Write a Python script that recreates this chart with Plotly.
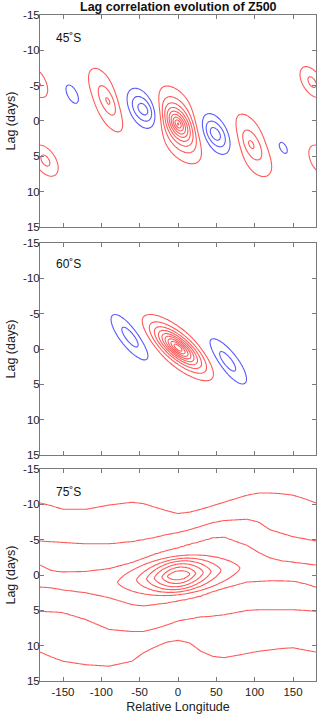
import numpy as np
import plotly.graph_objects as go

# ---------------- data ----------------
title_text = "Lag correlation evolution of Z500"
panel_labels = ["45˚S", "60˚S", "75˚S"]
x_ticks = [-150, -100, -50, 0, 50, 100, 150]
x_ticktext = ["-150", "-100", "-50", "0", "50", "100", "150"]
y_ticks = [-15, -10, -5, 0, 5, 10, 15]
y_ticktext = ["-15", "-10", "-5", "0", "5", "10", "15"]
pos_levels = [0.1, 0.9, 0.1]     # start, end, step
neg_levels = [-0.9, -0.1, 0.1]

# Panel 1 (45S): correlation centres (relative lon, lag), peak values, widths, tilt, profile
p1_lon = [0, -44, 48, -91, 95, -137, 136, 175, -173]
p1_lag = [0.4, -1.6, 1.8, -2.8, 3.3, -3.8, 3.8, -5.5, 5.6]
p1_amp = [1.0, -0.46, -0.46, 0.36, 0.36, -0.17, -0.17, 0.24, 0.24]
p1_wlon = [18, 23, 21, 18, 21, 15, 15, 15, 16]
p1_wlag = [2.9, 2.9, 2.9, 3.9, 3.8, 2.7, 2.5, 2.4, 2.4]
p1_tilt = [3.6, 3.6, 3.6, 3.6, 3.6, 3.6, 3.6, 3.6, 3.6]
p1_shape = [1.2, 1.5, 1.5, 1.2, 1.2, 1.5, 1.5, 1.5, 1.5]

# Panel 2 (60S)
p2_lon = [0, -62, 64]
p2_lag = [-0.2, -1.7, 1.75]
p2_amp = [1.0, -0.28, -0.28]
p2_wlon = [18, 16, 16]
p2_wlag = [2.6, 3.3, 3.3]
p2_tilt = [8, 6, 6]
p2_shape = [1.4, 1.5, 1.5]

# Panel 3 (75S): lag position of the 0.1/0.2/0.3 lines above and below the ridge
r_lon = [-180, -165, -150, -120, -90, -60, -45, -30, -15, 0, 15, 30, 45, 60, 90, 105, 120, 135, 150, 165, 180]
r_up01 = [-10.2, -9.8, -9.3, -9.3, -9.9, -10.3, -10.1, -9.6, -9.1, -8.7, -8.9, -9.3, -9.8, -10.3, -11.3, -11.6, -11.6, -11.5, -11.3, -10.8, -10.2]
r_up02 = [-4.8, -4.7, -4.6, -4.4, -4.4, -4.7, -5.0, -5.3, -5.7, -6.0, -6.4, -6.9, -7.4, -7.7, -7.9, -7.5, -6.4, -5.9, -5.4, -5.1, -4.8]
r_up03 = [-1.4, -0.6, -0.4, -0.5, -0.9, -1.8, -2.4, -3.0, -3.5, -3.9, -4.4, -4.8, -5.3, -5.4, -4.2, -3.2, -2.4, -2.0, -1.8, -1.6, -1.4]
r_dn03 = [1.7, 1.8, 2.1, 2.5, 3.2, 4.2, 4.4, 4.2, 4.0, 3.7, 3.4, 3.0, 2.4, 1.9, 1.0, 0.9, 0.8, 0.8, 0.85, 1.2, 1.7]
r_dn02 = [5.1, 5.2, 5.3, 6.3, 7.7, 8.0, 8.0, 7.6, 7.1, 6.5, 6.2, 5.9, 5.8, 5.6, 5.0, 4.9, 4.9, 4.9, 4.9, 5.0, 5.1]
r_dn01 = [10.9, 11.6, 12.2, 12.7, 12.9, 12.2, 11.0, 10.2, 9.5, 9.25, 9.6, 10.8, 11.5, 11.7, 11.1, 10.8, 10.6, 10.4, 10.3, 10.6, 10.9]
r_peak = 0.36
# central maximum of panel 3: level, half-width in lon, half-width in lag
c_level = [1.0, 0.9, 0.8, 0.7, 0.6, 0.5, 0.4, 0.3, 0.0]
c_rlon = [1e-6, 15, 22, 32, 42, 55, 80, 100, 130]
c_rlag = [1e-6, 0.65, 1.15, 1.6, 2.0, 2.35, 2.75, 3.2, 4.5]
c_centre = [1.0, 0.05]
c_slope = 1 / 80.0

# ---------------- fields ----------------
lon = np.arange(-180, 180.01, 2.0)
lag = np.arange(-15, 15.01, 0.25)
LON, LAG = np.meshgrid(lon, lag)


def blob_field(lons, lags, amps, wl, wt, tilts, shapes):
    z = np.zeros_like(LON)
    for lo, la, a, su, sv, s, p in zip(lons, lags, amps, wl, wt, tilts, shapes):
        for sh in (-360, 0, 360):
            u = LON - (lo + sh) - s * (LAG - la)
            v = LAG - la
            r = np.sqrt((u / su) ** 2 + (v / sv) ** 2)
            z += a * np.exp(-r ** p)
    return z


Z1 = blob_field(p1_lon, p1_lag, p1_amp, p1_wlon, p1_wlag, p1_tilt, p1_shape)
Z2 = blob_field(p2_lon, p2_lag, p2_amp, p2_wlon, p2_wlag, p2_tilt, p2_shape)

# ridge of panel 3
ridge = np.zeros_like(LON)
cols = [np.interp(lon, r_lon, arr) for arr in (r_up01, r_up02, r_up03, r_dn03, r_dn02, r_dn01)]
for j in range(len(lon)):
    a, b, c, d, e, f = [col[j] for col in cols]
    mid = 0.5 * (c + d)
    knots = [a - (b - a), a, b, c, mid, d, e, f, f + (f - e)]
    vals = [0, 0.1, 0.2, 0.3, r_peak, 0.3, 0.2, 0.1, 0]
    ridge[:, j] = np.interp(lag, knots, vals)

u = LON - c_centre[0]
v = LAG - c_centre[1] + LON * c_slope
invq = []
for a_, b_ in zip(c_rlon, c_rlag):
    q = np.sqrt((u / a_) ** 2 + np.abs(v / b_) ** 1.4) + 1e-12
    invq.append(1.0 / q)
bump = np.zeros_like(LON)
for i in range(len(c_level) - 1):
    qa, qb = invq[i], invq[i + 1]
    m = (qa < 1) & (qb >= 1)
    bump[m] = c_level[i] + (1 - qa[m]) / (qb[m] - qa[m]) * (c_level[i + 1] - c_level[i])
bump[invq[0] >= 1] = c_level[0]
Z3 = np.maximum(ridge, bump)

# ---------------- figure ----------------
RED = "rgb(255,90,90)"
BLUE = "rgb(90,90,255)"
AX = "#7a7a7a"
FONT = "Liberation Sans, Arial, Helvetica, sans-serif"

fig = go.Figure()
domains = [[0.6817, 1.0], [0.3393, 0.6577], [0.0, 0.3183]]
for k, Z in enumerate([Z1, Z2, Z3]):
    xa = "x" if k == 0 else f"x{k+1}"
    ya = "y" if k == 0 else f"y{k+1}"
    fig.add_trace(go.Contour(
        x=lon, y=lag, z=Z, xaxis=xa, yaxis=ya, showscale=False, hoverinfo="skip",
        autocontour=False,
        contours=dict(start=pos_levels[0], end=pos_levels[1] + 0.05, size=pos_levels[2], coloring="none"),
        line=dict(color=RED, width=1.1, smoothing=1)))
    if Z.min() < -0.1:
        fig.add_trace(go.Contour(
            x=lon, y=lag, z=Z, xaxis=xa, yaxis=ya, showscale=False, hoverinfo="skip",
            autocontour=False,
            contours=dict(start=neg_levels[0], end=neg_levels[1] + 0.05, size=neg_levels[2], coloring="none"),
            line=dict(color=BLUE, width=1.1, smoothing=1)))

axis_common = dict(showline=True, linecolor=AX, linewidth=1, mirror="ticks", ticks="inside",
                   ticklen=4, tickcolor=AX, showgrid=False, zeroline=False, automargin=False,
                   tickfont=dict(family=FONT, size=11.5, color="#222"))
layout = dict(
    width=320, height=718, paper_bgcolor="white", plot_bgcolor="white",
    margin=dict(l=40, r=4, t=15, b=37), showlegend=False,
    font=dict(family=FONT, color="#222"),
)
for k in range(3):
    xn = "xaxis" if k == 0 else f"xaxis{k+1}"
    yn = "yaxis" if k == 0 else f"yaxis{k+1}"
    ya = "y" if k == 0 else f"y{k+1}"
    xa = "x" if k == 0 else f"x{k+1}"
    layout[xn] = dict(axis_common, domain=[0, 1], anchor=ya, range=[-180, 180],
                      tickvals=x_ticks, ticktext=x_ticktext,
                      showticklabels=(k == 2))
    layout[yn] = dict(axis_common, domain=domains[k], anchor=xa, range=[15, -15],
                      tickvals=y_ticks, ticktext=y_ticktext, ticklabelstandoff=-3,
                      title=dict(text="Lag (days)", font=dict(family=FONT, size=12.5, color="#222"), standoff=4))
layout["xaxis3"]["title"] = dict(text="Relative Longitude", font=dict(family=FONT, size=12.5, color="#222"), standoff=5)
fig.update_layout(**layout)

annots = [dict(text="<b>" + title_text + "</b>", x=0.5, y=1.012, xref="paper", yref="paper",
               xanchor="center", yanchor="middle", showarrow=False, font=dict(family=FONT, size=12.5, color="#111"))]
label_y = [0.9655, 0.626, 0.2838]
for k in range(3):
    annots.append(dict(text=panel_labels[k], x=0.052, y=label_y[k], xref="paper", yref="paper",
                       xanchor="left", yanchor="middle", showarrow=False,
                       font=dict(family=FONT, size=12, color="#111")))
fig.update_layout(annotations=annots)

fig.write_html("out.html", config={"displayModeBar": False, "staticPlot": True},
               post_script="document.body.style.margin='0';document.body.style.overflow='hidden';")
